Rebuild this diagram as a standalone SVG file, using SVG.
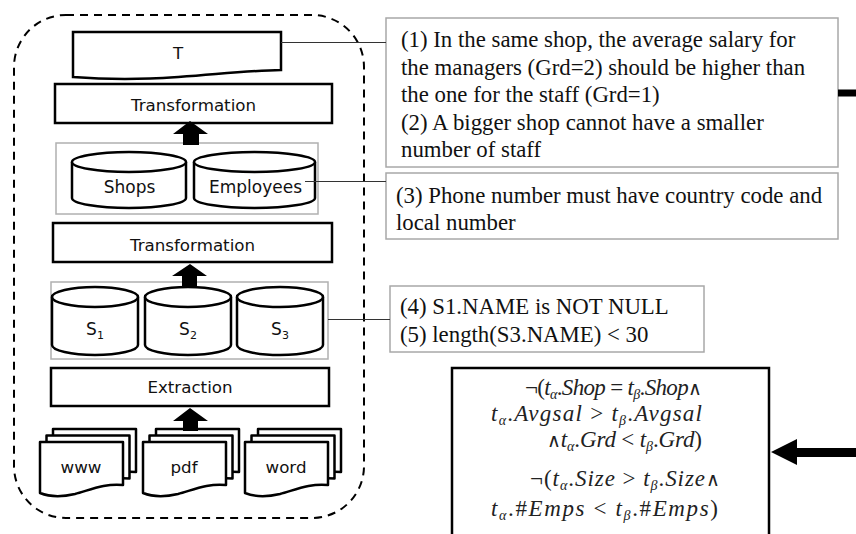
<svg xmlns="http://www.w3.org/2000/svg" xmlns:xlink="http://www.w3.org/1999/xlink" width="856" height="534" viewBox="0 0 856 534">
  <style>
    .box { fill: #fff; stroke: #000; stroke-width: 2.5; }
    .grp { fill: none; stroke: #b0b0b0; stroke-width: 1.5; }
    .note { fill: #fff; stroke: #a8a8a8; stroke-width: 1.5; }
    .lbl { font-family: "DejaVu Sans", sans-serif; font-size: 16.7px; fill: #111; text-anchor: middle; }
    .cyl { font-size: 17px; }
    .sub { font-size: 11px; }
    .ser { font-family: "Liberation Serif", "Times New Roman", serif; font-size: 22.8px; fill: #111; }
    .math { font-family: "Liberation Serif", "Times New Roman", serif; font-size: 23px; fill: #222; }
    .mi { font-style: italic; }
    .ms { font-size: 14px; font-style: italic; }
    .op { font-family: "DejaVu Sans", sans-serif; font-weight: 200; font-size: 19px; }
    .link { stroke: #333; stroke-width: 1.2; fill: none; }
    .blk { fill: #000; stroke: none; }
  </style>
  <defs>
    <path id="page" d="M0,0 H83 V43 C65,41 50,48 35,52 C22,55 10,55 0,51 Z" fill="#fff" stroke="#000" stroke-width="2.5" stroke-linejoin="round"/>
  </defs>

  <!-- ETL boundary -->
  <rect id="etl-boundary" x="14" y="15" width="350" height="503" rx="52" ry="52" fill="none" stroke="#000" stroke-width="2" stroke-dasharray="8 6"/>

  <!-- target T -->
  <g id="target">
    <path class="box" d="M73,32 H281 V70 C220,71 160,84 73,77 Z"/>
    <text class="lbl" x="178" y="59">T</text>
  </g>

  <g id="transformation-top">
    <rect class="box" x="55" y="84" width="277" height="39"/>
    <text class="lbl" x="193.5" y="111">Transformation</text>
  </g>

  <g id="staging">
    <rect class="grp" x="56" y="143" width="262" height="71"/>
    <g id="shops">
      <path class="box" d="M72,162 V198 A57,10 0 0 0 186,198 V162"/>
      <ellipse class="box" cx="129" cy="162" rx="57" ry="10"/>
      <text class="lbl cyl" x="129.5" y="193">Shops</text>
    </g>
    <g id="employees">
      <path class="box" d="M194,162 V198 A60.5,10 0 0 0 315,198 V162"/>
      <ellipse class="box" cx="254.5" cy="162" rx="60.5" ry="10"/>
      <text class="lbl cyl" x="255.5" y="193">Employees</text>
    </g>
  </g>

  <g id="transformation-mid">
    <rect class="box" x="53" y="223" width="279" height="39"/>
    <text class="lbl" x="192.5" y="251">Transformation</text>
  </g>

  <g id="sources">
    <rect class="grp" x="51" y="282" width="277" height="77"/>
    <g id="s1">
      <path class="box" d="M52,297 V345 A43,10 0 0 0 138,345 V297"/>
      <ellipse class="box" cx="95" cy="297" rx="43" ry="10"/>
      <text class="lbl cyl" x="95" y="335">S<tspan class="sub" dy="4">1</tspan></text>
    </g>
    <g id="s2">
      <path class="box" d="M145,297 V345 A43,10 0 0 0 231,345 V297"/>
      <ellipse class="box" cx="188" cy="297" rx="43" ry="10"/>
      <text class="lbl cyl" x="188" y="335">S<tspan class="sub" dy="4">2</tspan></text>
    </g>
    <g id="s3">
      <path class="box" d="M237,297 V345 A43,10 0 0 0 323,345 V297"/>
      <ellipse class="box" cx="280" cy="297" rx="43" ry="10"/>
      <text class="lbl cyl" x="280" y="335">S<tspan class="sub" dy="4">3</tspan></text>
    </g>
  </g>

  <g id="extraction">
    <rect class="box" x="51" y="368" width="278" height="38"/>
    <text class="lbl" x="190" y="393">Extraction</text>
  </g>

  <g id="doc-www">
    <use xlink:href="#page" href="#page" x="53" y="429"/>
    <use xlink:href="#page" href="#page" x="46.5" y="435.5"/>
    <use xlink:href="#page" href="#page" x="40" y="442"/>
    <text class="lbl" x="81" y="473">www</text>
  </g>
  <g id="doc-pdf">
    <use xlink:href="#page" href="#page" x="156" y="429"/>
    <use xlink:href="#page" href="#page" x="149.5" y="435.5"/>
    <use xlink:href="#page" href="#page" x="143" y="442"/>
    <text class="lbl" x="184" y="473">pdf</text>
  </g>
  <g id="doc-word">
    <use xlink:href="#page" href="#page" x="258" y="429"/>
    <use xlink:href="#page" href="#page" x="251.5" y="435.5"/>
    <use xlink:href="#page" href="#page" x="245" y="442"/>
    <text class="lbl" x="286" y="473">word</text>
  </g>

  <!-- constraint notes -->
  <g id="note-target">
    <rect class="note" x="386" y="18" width="452" height="149"/>
    <text class="ser" x="401" y="47">(1) In the same shop, the average salary for</text>
    <text class="ser" x="401" y="75">the managers (Grd=2) should be higher than</text>
    <text class="ser" x="401" y="102">the one for the staff (Grd=1)</text>
    <text class="ser" x="401" y="130">(2) A bigger shop cannot have a smaller</text>
    <text class="ser" x="401" y="157">number of staff</text>
  </g>
  <g id="note-staging">
    <rect class="note" x="386" y="173" width="452" height="66"/>
    <text class="ser" x="396" y="203">(3) Phone number must have country code and</text>
    <text class="ser" x="396" y="230">local number</text>
  </g>
  <g id="note-sources">
    <rect class="note" x="390" y="286" width="314" height="66"/>
    <text class="ser" x="400" y="314">(4) S1.NAME is NOT NULL</text>
    <text class="ser" x="400" y="342">(5) length(S3.NAME) &lt; 30</text>
  </g>

  <!-- denial constraints -->
  <g id="formulas">
    <rect class="box" x="452" y="368" width="317" height="200"/>
    <text class="math" x="525" y="395" textLength="177" lengthAdjust="spacing">¬(<tspan class="mi">t</tspan><tspan class="ms" dy="4">α</tspan><tspan dy="-4">.</tspan><tspan class="mi">Shop</tspan> = <tspan class="mi">t</tspan><tspan class="ms" dy="4">β</tspan><tspan dy="-4">.</tspan><tspan class="mi">Shop</tspan><tspan class="op">∧</tspan></text>
    <text class="math" x="491" y="421" textLength="211" lengthAdjust="spacing"><tspan class="mi">t</tspan><tspan class="ms" dy="4">α</tspan><tspan dy="-4">.</tspan><tspan class="mi">Avgsal</tspan> &gt; <tspan class="mi">t</tspan><tspan class="ms" dy="4">β</tspan><tspan dy="-4">.</tspan><tspan class="mi">Avgsal</tspan></text>
    <text class="math" x="547" y="447" textLength="155" lengthAdjust="spacing"><tspan class="op">∧</tspan><tspan class="mi">t</tspan><tspan class="ms" dy="4">α</tspan><tspan dy="-4">.</tspan><tspan class="mi">Grd</tspan> &lt; <tspan class="mi">t</tspan><tspan class="ms" dy="4">β</tspan><tspan dy="-4">.</tspan><tspan class="mi">Grd</tspan>)</text>
    <text class="math" x="530" y="486" textLength="190" lengthAdjust="spacing">¬(<tspan class="mi">t</tspan><tspan class="ms" dy="4">α</tspan><tspan dy="-4">.</tspan><tspan class="mi">Size</tspan> &gt; <tspan class="mi">t</tspan><tspan class="ms" dy="4">β</tspan><tspan dy="-4">.</tspan><tspan class="mi">Size</tspan><tspan class="op">∧</tspan></text>
    <text class="math" x="491" y="516" textLength="227" lengthAdjust="spacing"><tspan class="mi">t</tspan><tspan class="ms" dy="4">α</tspan><tspan dy="-4">.#</tspan><tspan class="mi">Emps</tspan> &lt; <tspan class="mi">t</tspan><tspan class="ms" dy="4">β</tspan><tspan dy="-4">.#</tspan><tspan class="mi">Emps</tspan>)</text>
  </g>

  <!-- connectors -->
  <g id="connectors">
    <line class="link" x1="281" y1="42.5" x2="386" y2="42.5"/>
    <line class="link" x1="305" y1="181.5" x2="386" y2="181.5"/>
    <line class="link" x1="328" y1="319.5" x2="390" y2="319.5"/>
    <polygon class="blk" points="190,121 208,134 199,134 199,145 183,145 183,134 173,134"/>
    <polygon class="blk" points="190,264 207,276 197,276 197,288 182,288 182,276 172,276"/>
    <polygon class="blk" points="190,408 208,421 198,421 198,431 183,431 183,421 173,421"/>
    <rect class="blk" x="838" y="89.5" width="18" height="7"/>
    <polygon class="blk" points="771,452 797,439 797,448 856,448 856,457 797,457 797,465"/>
  </g>
</svg>
